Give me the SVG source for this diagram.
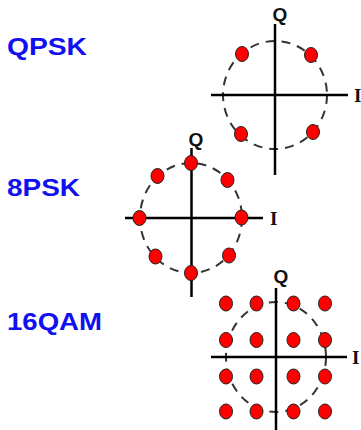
<svg xmlns="http://www.w3.org/2000/svg" width="361" height="430" viewBox="0 0 361 430">
<style>
.lbl{font-family:"Liberation Sans",Arial,sans-serif;font-weight:bold;font-size:23px;fill:#1010f0}
.ax{stroke:#000;stroke-width:2.5;fill:none}
.circ{stroke:#333;stroke-width:2;fill:none;stroke-dasharray:9 7}
.dot{fill:#f00;stroke:#222;stroke-width:1}
.q{font-family:"Liberation Sans",Arial,sans-serif;font-weight:bold;font-size:19px;fill:#111}
.i{font-family:"Liberation Serif","Times New Roman",serif;font-weight:bold;font-size:19px;fill:#111}
</style>
<rect width="361" height="430" fill="#fff"/>
<g id="labels">
<text class="lbl" x="7" y="54.5" textLength="80" lengthAdjust="spacingAndGlyphs">QPSK</text>
<text class="lbl" x="7" y="196" textLength="73" lengthAdjust="spacingAndGlyphs">8PSK</text>
<text class="lbl" x="7" y="330" textLength="95" lengthAdjust="spacingAndGlyphs">16QAM</text>
</g>
<g id="qpsk">
<ellipse class="circ" cx="275" cy="95" rx="52" ry="54"/>
<line class="ax" x1="275" y1="24" x2="275" y2="175"/>
<line class="ax" x1="211" y1="95" x2="348" y2="95"/>
<text class="q" x="280" y="21" text-anchor="middle">Q</text>
<text class="i" x="354" y="102">I</text>
<ellipse class="dot" cx="242" cy="54" rx="6.5" ry="7.5"/>
<ellipse class="dot" cx="311" cy="55" rx="6.5" ry="7.5"/>
<ellipse class="dot" cx="241" cy="134" rx="6.5" ry="7.5"/>
<ellipse class="dot" cx="313" cy="132" rx="6.5" ry="7.5"/>
</g>
<g id="psk8">
<ellipse class="circ" cx="191" cy="218" rx="51" ry="55"/>
<line class="ax" x1="191.5" y1="148" x2="191.5" y2="297"/>
<line class="ax" x1="125" y1="218" x2="263" y2="218"/>
<text class="q" x="196" y="146" text-anchor="middle">Q</text>
<text class="i" x="270" y="225">I</text>
<ellipse class="dot" cx="191" cy="163" rx="6.5" ry="7.5"/>
<ellipse class="dot" cx="191" cy="273" rx="6.5" ry="7.5"/>
<ellipse class="dot" cx="139.5" cy="218" rx="6.5" ry="7.5"/>
<ellipse class="dot" cx="241.5" cy="217.5" rx="6.5" ry="7.5"/>
<ellipse class="dot" cx="157.5" cy="176" rx="6.5" ry="7.5"/>
<ellipse class="dot" cx="227.5" cy="180" rx="6.5" ry="7.5"/>
<ellipse class="dot" cx="155.5" cy="256.5" rx="6.5" ry="7.5"/>
<ellipse class="dot" cx="229" cy="255.5" rx="6.5" ry="7.5"/>
</g>
<g id="qam16">
<ellipse class="circ" cx="276" cy="357" rx="50" ry="55"/>
<line class="ax" x1="276" y1="288" x2="276" y2="430"/>
<line class="ax" x1="211" y1="357" x2="347" y2="357"/>
<text class="q" x="281" y="283" text-anchor="middle">Q</text>
<text class="i" x="352" y="364">I</text>
<g>
<ellipse class="dot" cx="226" cy="303.5" rx="6.5" ry="7.5"/>
<ellipse class="dot" cx="256.5" cy="303.5" rx="6.5" ry="7.5"/>
<ellipse class="dot" cx="293.5" cy="303.5" rx="6.5" ry="7.5"/>
<ellipse class="dot" cx="325" cy="303.5" rx="6.5" ry="7.5"/>
<ellipse class="dot" cx="226" cy="340" rx="6.5" ry="7.5"/>
<ellipse class="dot" cx="256.5" cy="340" rx="6.5" ry="7.5"/>
<ellipse class="dot" cx="293.5" cy="340" rx="6.5" ry="7.5"/>
<ellipse class="dot" cx="325" cy="340" rx="6.5" ry="7.5"/>
<ellipse class="dot" cx="226" cy="376.5" rx="6.5" ry="7.5"/>
<ellipse class="dot" cx="256.5" cy="376.5" rx="6.5" ry="7.5"/>
<ellipse class="dot" cx="293.5" cy="376.5" rx="6.5" ry="7.5"/>
<ellipse class="dot" cx="325" cy="376.5" rx="6.5" ry="7.5"/>
<ellipse class="dot" cx="226" cy="411.5" rx="6.5" ry="7.5"/>
<ellipse class="dot" cx="256.5" cy="411.5" rx="6.5" ry="7.5"/>
<ellipse class="dot" cx="293.5" cy="411.5" rx="6.5" ry="7.5"/>
<ellipse class="dot" cx="325" cy="411.5" rx="6.5" ry="7.5"/>
</g>
</g>
<g id="connectors"></g>
</svg>
